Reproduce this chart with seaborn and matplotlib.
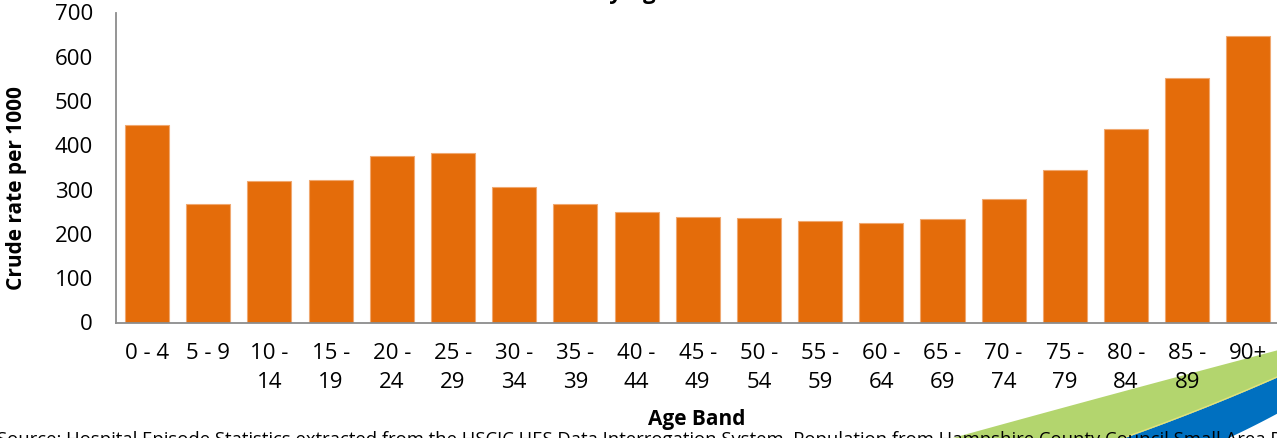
import numpy as np
import pandas as pd
import matplotlib
matplotlib.use("Agg")
import matplotlib.pyplot as plt
import seaborn as sns

# ---- data ----
age_bands = ["0 - 4", "5 - 9", "10 -\n14", "15 -\n19", "20 -\n24", "25 -\n29", "30 -\n34",
             "35 -\n39", "40 -\n44", "45 -\n49", "50 -\n54", "55 -\n59", "60 -\n64",
             "65 -\n69", "70 -\n74", "75 -\n79", "80 -\n84", "85 -\n89", "90+"]
rates = [446, 267, 320, 321, 375, 382, 306, 268, 250, 238, 236, 229, 225, 234, 278,
         344, 437, 552, 647]
y_ticks = [0, 100, 200, 300, 400, 500, 600, 700]

title_prefix = "Admission rate b"
title_text = "Admission rate by Age Band"
x_label = "Age Band"
y_label = "Crude rate per 1000"
source_text = ("Source: Hospital Episode Statistics extracted from the HSCIC HES Data "
               "Interrogation System. Population from Hampshire County Council Small "
               "Area Population Forecasts")

sns.set_theme(style="white")
plt.rcParams["font.family"] = ["Open Sans", "DejaVu Sans"]

W, H = 1277, 438
fig = plt.figure(figsize=(W / 100, H / 100), dpi=100)
fig.patch.set_facecolor("white")

# decorative swoosh (behind everything)
deco = fig.add_axes([0, 0, 1, 1], zorder=0)
deco.set_xlim(0, W)
deco.set_ylim(H, 0)
deco.axis("off")
gx = np.linspace(900, W, 400)
top_c = np.polyfit([950, 1080, 1180, 1277], [438, 403, 375, 350], 2)
mid_c = np.polyfit([1123, 1180, 1277], [438, 417, 377], 2)
bot_c = np.polyfit([1227, 1252, 1277], [438, 426, 413], 2)
top_y = np.minimum(np.polyval(top_c, gx), H + 2)
mid_y = np.minimum(np.polyval(mid_c, gx), H + 2)
bot_y = np.minimum(np.polyval(bot_c, gx), H + 2)
mid_y = np.where(gx < 1123, H + 2, mid_y)
bot_y = np.where(gx < 1227, H + 2, bot_y)
top_y = np.where(gx < 950, H + 2, top_y)
deco.fill_between(gx, top_y, mid_y, color="#B3D56E", lw=0)
deco.fill_between(gx, mid_y, bot_y, color="#0070C0", lw=0)
deco.plot(gx[gx >= 1123], mid_y[gx >= 1123], color="#E2E27A", lw=1)

ax = fig.add_axes([116.5 / W, 1 - 322.5 / H, (1279 - 116.5) / W, 310 / H], zorder=2)
ax.patch.set_alpha(0)
df = pd.DataFrame({"band": age_bands, "rate": rates})
sns.barplot(data=df, x="band", y="rate", color="#E46C0A", saturation=1, width=0.72,
            edgecolor="#F0A870", linewidth=0.8, ax=ax)

ax.set_ylim(0, 700)
ax.set_xlim(-0.5, len(age_bands) - 0.5)
ax.set_yticks(y_ticks)
ax.set_yticklabels([str(v) for v in y_ticks])
ax.set_xlabel("")
ax.set_ylabel("")
ax.grid(False)
for s in ["top", "right"]:
    ax.spines[s].set_visible(False)
for s in ["left", "bottom"]:
    ax.spines[s].set_color("#8C8C8C")
    ax.spines[s].set_linewidth(1.3)

ax.set_xticks(np.arange(len(age_bands)))
ax.set_xticklabels(age_bands, linespacing=1.5, va="top")
ax.set_xticks(np.arange(len(age_bands) + 1) - 0.5, minor=True)
ax.tick_params(axis="x", which="major", length=0, pad=15, labelsize=16, labelcolor="black")
ax.tick_params(axis="x", which="minor", length=6, width=1.2, color="#8C8C8C", direction="out")
ax.tick_params(axis="y", which="major", length=6, width=1.2, color="#8C8C8C",
               direction="out", pad=11, labelsize=16, labelcolor="black")
ax.tick_params(axis="y", which="minor", length=0)

fig.text(17 / W, 1 - 188 / H, y_label, rotation=90, ha="center", va="center",
         fontsize=15, fontweight="bold", color="black")
fig.text(697 / W, 1 - 420 / H, x_label, ha="center", va="center",
         fontsize=15, fontweight="bold", color="black")
fig.text(-3 / W, 1 - 431 / H, source_text, ha="left", va="top",
         fontsize=13.3, color="black")

# title: position so that "y" of "by" sits near x=610 px (title is cut off at the top)
renderer = fig.canvas.get_renderer()
probe = fig.text(0, 0, title_prefix, fontsize=16, fontweight="bold")
pw = probe.get_window_extent(renderer).width
probe.remove()
fig.text((610 - pw) / W, 1 + 1.0 / H, title_text, ha="left", va="baseline",
         fontsize=16, fontweight="bold", color="black")

fig.savefig("out.png", dpi=100, facecolor="white")
